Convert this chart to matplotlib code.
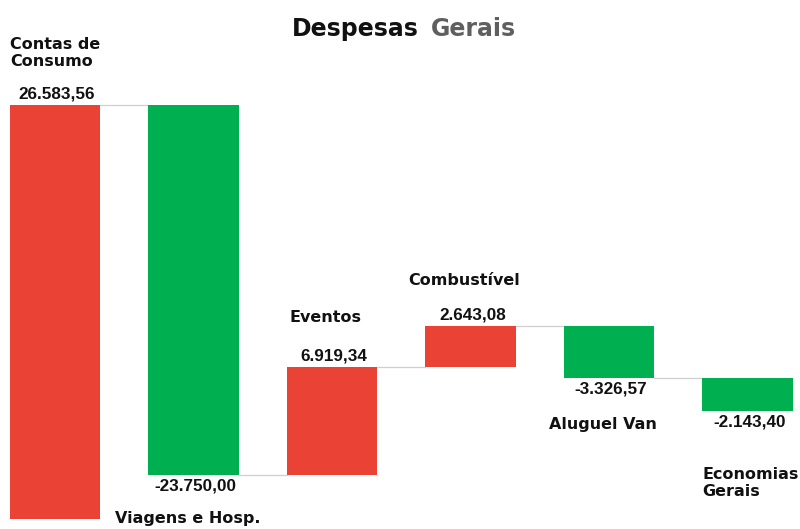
"""
Waterfall chart: Despesas Gerais
"""

import matplotlib.pyplot as plt
import numpy as np

categories = ["Contas de\nConsumo", "Viagens e Hosp.", "Eventos",
              "Combustível", "Aluguel Van", "Economias\nGerais"]
values = [26583.56, -23750.00, 6919.34, 2643.08, -3326.57, -2143.40]

RED = "#EA4335"
GREEN = "#00B050"
DPI = 100

# pixel gap from bar edge to the centre of the category label
label_gap = [52, 44, 50, 45, 47, 72]


def fmt_br(v):
    s = f"{v:,.2f}"
    return s.replace(",", "X").replace(".", ",").replace("X", ".")


ends = np.cumsum(values)
starts = ends - np.array(values)
x = np.arange(len(values))
colors = [RED if v > 0 else GREEN for v in values]
width = 0.65

fig = plt.figure(figsize=(8, 5.29), dpi=DPI)
ax = fig.add_axes([0, 0, 1, 1])
ax.bar(x, values, bottom=starts, width=width, color=colors, zorder=2)

# connector lines
for i in range(len(values) - 1):
    ax.plot([x[i] + width / 2, x[i + 1] - width / 2], [ends[i], ends[i]],
            color="#cfcfcf", lw=0.9, zorder=1)

px = 72 / DPI  # points per pixel
for i, v in enumerate(values):
    sign = 1 if v > 0 else -1
    ax.annotate(fmt_br(v), (x[i], ends[i]),
                xytext=(2 * px, sign * 11 * px), textcoords="offset points",
                ha="center", va="center", fontsize=12.3,
                fontweight="bold", family="Liberation Sans", color="#111111")
    multi = "\n" in categories[i]
    ax.annotate(categories[i], (x[i] - (width / 2 if multi else 0), ends[i]),
                xytext=(0 if multi else -6 * px, sign * label_gap[i] * px),
                textcoords="offset points",
                ha="left" if multi else "center", va="center",
                fontsize=11.5, fontweight="bold", family="DejaVu Sans",
                color="#111111", linespacing=1.15)

ax.set_xlim(-0.397, 5.379)
scale = 414 / 26583.56  # pixels per unit
ax.set_ylim(-10 / scale, 519 / scale)
ax.axis("off")

fig.text(419 / 800, 1 - 36 / 529, "Despesas", ha="right", va="baseline",
         fontsize=17, fontweight="bold", color="#111111")
fig.text(431 / 800, 1 - 36 / 529, "Gerais", ha="left", va="baseline",
         fontsize=17, fontweight="bold", color="#5f5f5f")

fig.savefig("out.png", dpi=DPI, facecolor="white")
plt.close()
